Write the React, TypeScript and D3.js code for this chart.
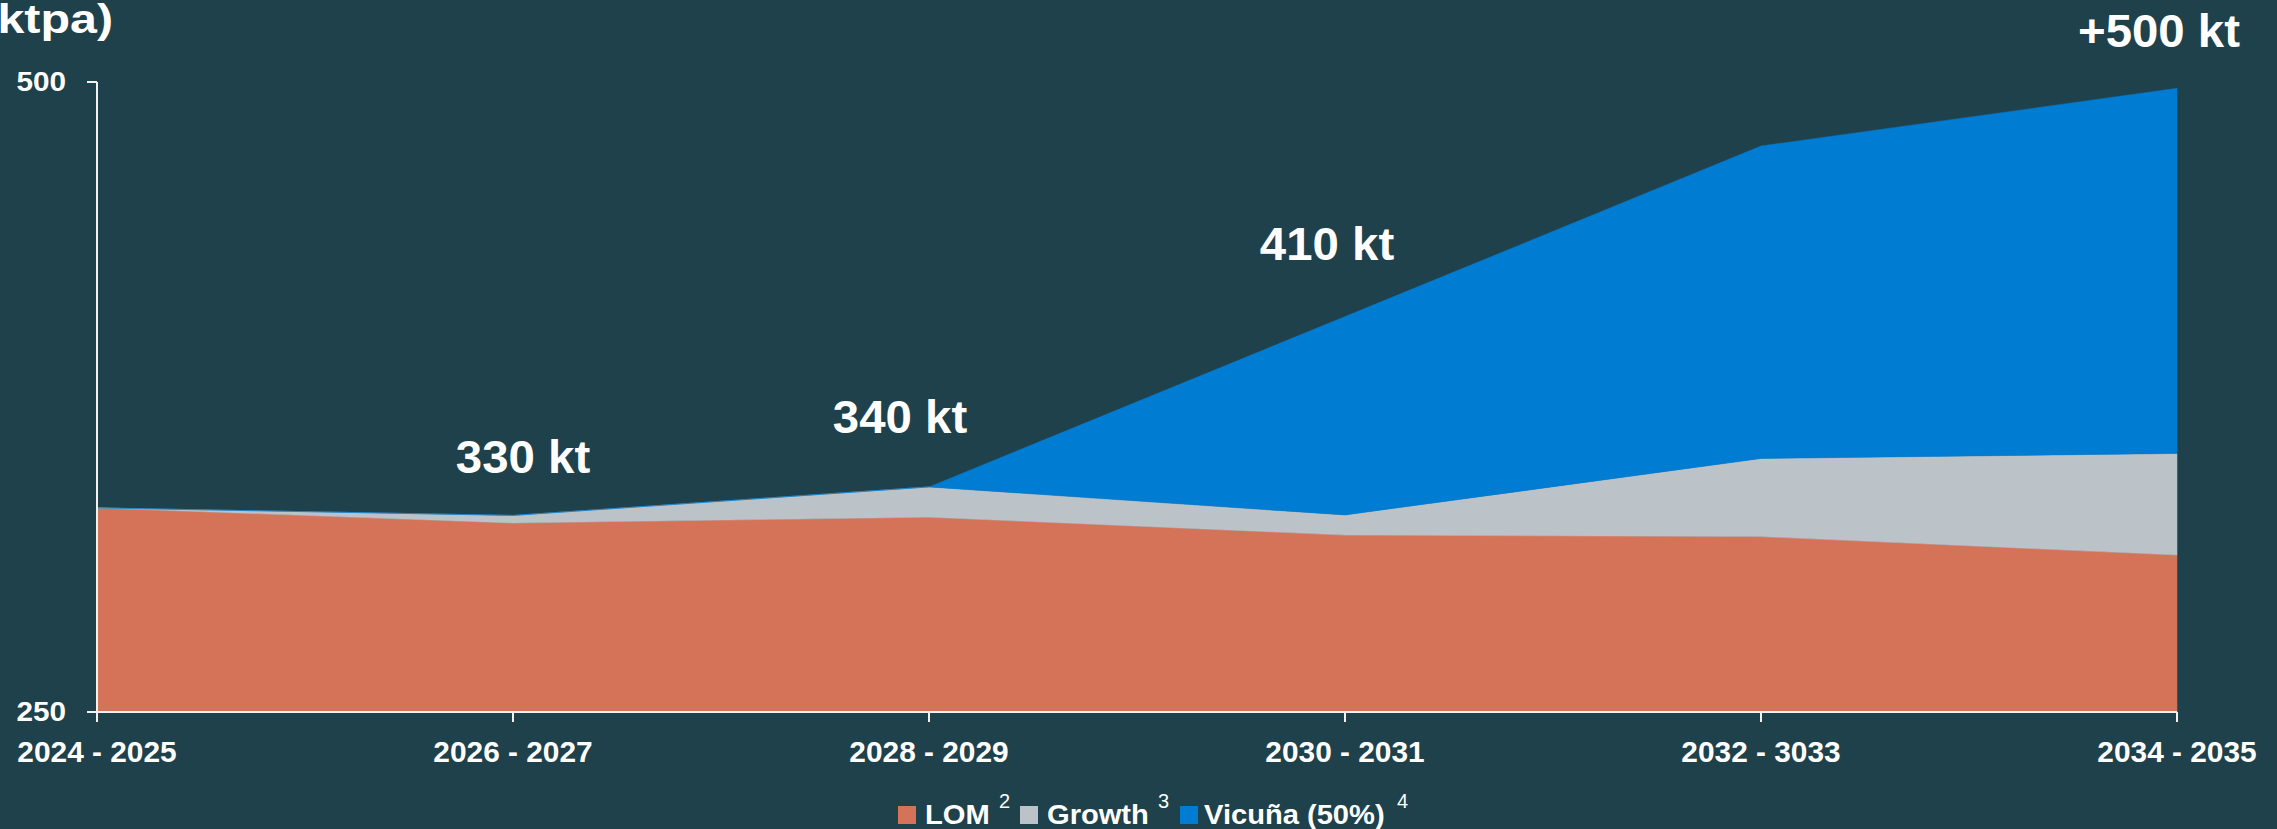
import React from "react";
import * as d3 from "d3";

const categories = ["2024 - 2025", "2026 - 2027", "2028 - 2029", "2030 - 2031", "2032 - 3033", "2034 - 2035"];
const lom = [331, 325, 327.3, 320.2, 319.6, 312.3];
const growth = [0, 3, 12, 8, 31, 40.3];
const vicuna = [0, 0, 0, 78.7, 124, 144.9];
const yTicks = [250, 500];
const seriesNames = ["LOM", "Growth", "Vicuña (50%)"];
const seriesSup = ["2", "3", "4"];
const annotationCats = ["2026 - 2027", "2028 - 2029", "2030 - 2031", "2034 - 2035"];
const annotationTexts = ["330 kt", "340 kt", "410 kt", "+500 kt"];
const annotationValues = [344.8, 360.7, 429.4, 513.9];

// layout only
const annotationDx = [10, -29, -18, -18];

const W = 2277;
const H = 829;
const BG = "#1e414b";
const COLORS = ["#d47358", "#bcc3c8", "#007cd2"];
const FONT = "'Liberation Sans', Arial, sans-serif";

function SText(props: {
  x: number;
  y: number;
  sx?: number;
  size: number;
  anchor?: "start" | "middle" | "end";
  bold?: boolean;
  children: React.ReactNode;
}) {
  const { x, y, sx = 1, size, anchor = "start", bold = true, children } = props;
  return (
    <text
      transform={`translate(${x},${y}) scale(${sx},1)`}
      textAnchor={anchor}
      fill="#fff"
      fontWeight={bold ? "bold" : "normal"}
      fontSize={size}
    >
      {children}
    </text>
  );
}

export default function App() {
  const x = d3.scalePoint<string>().domain(categories).range([97, 2177]);
  const y = d3.scaleLinear().domain([250, 500]).range([712, 82]);

  const rows = categories.map((c, i) => ({ cat: c, LOM: lom[i], Growth: growth[i], Vicuna: vicuna[i] }));
  const keys = ["LOM", "Growth", "Vicuna"];
  const stacked = d3.stack<any>().keys(keys)(rows);
  const area = d3
    .area<any>()
    .x((d) => x(d.data.cat)!)
    .y0((d) => y(Math.max(250, d[0])))
    .y1((d) => y(Math.max(250, d[1])));

  const legendItems = [
    { sq: 898, tx: 925, sup: 999 },
    { sq: 1020, tx: 1047, sup: 1158 },
    { sq: 1180, tx: 1204, sup: 1397 },
  ];

  return (
    <svg
      width={W}
      height={H}
      style={{ position: "absolute", left: 0, top: 0, background: BG }}
      fontFamily={FONT}
    >
      <rect x={0} y={0} width={W} height={H} fill={BG} />
      <SText x={113} y={33} sx={1.18} size={41} anchor="end">
        (ktpa)
      </SText>
      {stacked.map((s, i) => (
        <path key={s.key} d={area(s as any)!} fill={COLORS[i]} stroke={COLORS[i]} strokeWidth={0.5} />
      ))}
      {/* y axis */}
      <line x1={97} x2={97} y1={y(500)} y2={y(250)} stroke="#f2f2f2" strokeWidth={2} />
      {yTicks.map((t) => (
        <g key={t}>
          <line x1={87} x2={97} y1={y(t)} y2={y(t)} stroke="#f2f2f2" strokeWidth={2} />
          <SText x={66} y={y(t) + 9} sx={1.1} size={27} anchor="end">
            {t}
          </SText>
        </g>
      ))}
      {/* x axis */}
      <line x1={x(categories[0])!} x2={x(categories[categories.length - 1])!} y1={712} y2={712} stroke="#f2f2f2" strokeWidth={2} />
      {categories.map((c) => (
        <g key={c}>
          <line x1={x(c)!} x2={x(c)!} y1={712} y2={722} stroke="#f2f2f2" strokeWidth={2} />
          <SText x={x(c)!} y={762} sx={1.03} size={29} anchor="middle">
            {c}
          </SText>
        </g>
      ))}
      {annotationTexts.map((t, i) => (
        <SText key={t} x={x(annotationCats[i])! + annotationDx[i]} y={y(annotationValues[i])} sx={1.03} size={46} anchor="middle">
          {t}
        </SText>
      ))}
      {seriesNames.map((n, i) => (
        <g key={n}>
          <rect x={legendItems[i].sq} y={806} width={18} height={18} fill={COLORS[i]} />
          <SText x={legendItems[i].tx} y={824} sx={1.04} size={28}>
            {n}
          </SText>
          <SText x={legendItems[i].sup} y={808} size={20} bold={false}>
            {seriesSup[i]}
          </SText>
        </g>
      ))}
    </svg>
  );
}
